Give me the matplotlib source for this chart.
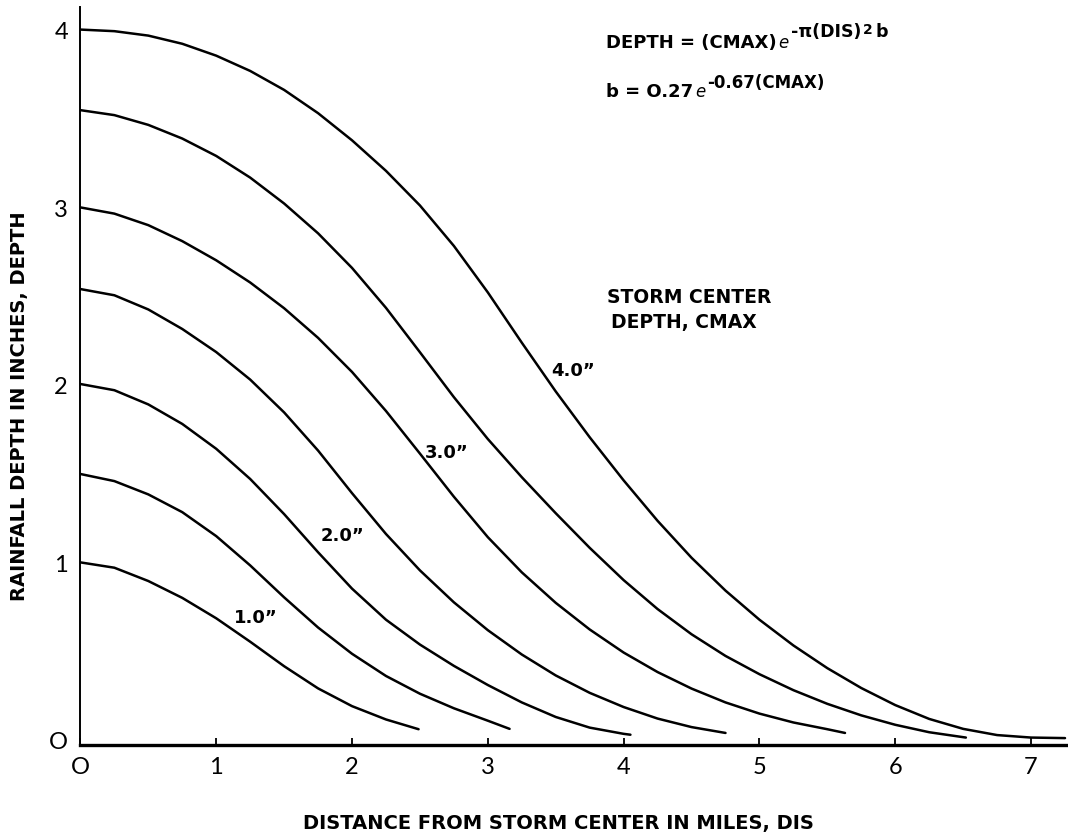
import matplotlib
matplotlib.use("Agg")
import matplotlib.pyplot as plt

# Curves at 0.25 mile steps: distance (miles) vs depth (inches)
dis_10 = [0.00, 0.25, 0.50, 0.75, 1.00, 1.25, 1.50, 1.75, 2.00, 2.25, 2.49]
depth_10 = [0.998, 0.968, 0.893, 0.798, 0.683, 0.551, 0.413, 0.288, 0.188, 0.113, 0.058]

dis_15 = [0.00, 0.25, 0.50, 0.75, 1.00, 1.25, 1.50, 1.75, 2.00, 2.25, 2.50, 2.75, 3.00, 3.16]
depth_15 = [1.496, 1.456, 1.381, 1.281, 1.146, 0.981, 0.801, 0.631, 0.483, 0.358, 0.258,
            0.176, 0.106, 0.060]

dis_20 = [0.00, 0.25, 0.50, 0.75, 1.00, 1.25, 1.50, 1.75, 2.00, 2.25, 2.50, 2.75, 3.00,
          3.25, 3.50, 3.75, 4.00, 4.05]
depth_20 = [2.003, 1.968, 1.888, 1.778, 1.638, 1.468, 1.270, 1.055, 0.850, 0.675, 0.535,
            0.415, 0.307, 0.209, 0.127, 0.067, 0.032, 0.027]

dis_25 = [0.00, 0.25, 0.50, 0.75, 1.00, 1.25, 1.50, 1.75, 2.00, 2.25, 2.50, 2.75, 3.00,
          3.25, 3.50, 3.75, 4.00, 4.25, 4.50, 4.75]
depth_25 = [2.538, 2.503, 2.423, 2.313, 2.183, 2.028, 1.843, 1.628, 1.388, 1.158, 0.953,
            0.773, 0.616, 0.479, 0.361, 0.263, 0.183, 0.118, 0.070, 0.037]

dis_30 = [0.00, 0.25, 0.50, 0.75, 1.00, 1.25, 1.50, 1.75, 2.00, 2.25, 2.50, 2.75, 3.00,
          3.25, 3.50, 3.75, 4.00, 4.25, 4.50, 4.75, 5.00, 5.25, 5.50, 5.63]
depth_30 = [2.998, 2.963, 2.898, 2.808, 2.700, 2.575, 2.430, 2.263, 2.071, 1.851, 1.611,
            1.368, 1.140, 0.942, 0.770, 0.620, 0.490, 0.380, 0.287, 0.209, 0.146, 0.096,
            0.058, 0.037]

dis_35 = [0.00, 0.25, 0.50, 0.75, 1.00, 1.25, 1.50, 1.75, 2.00, 2.25, 2.50, 2.75, 3.00,
          3.25, 3.50, 3.75, 4.00, 4.25, 4.50, 4.75, 5.00, 5.25, 5.50, 5.75, 6.00, 6.25, 6.52]
depth_35 = [3.546, 3.518, 3.463, 3.386, 3.288, 3.166, 3.020, 2.852, 2.657, 2.432, 2.182,
            1.929, 1.693, 1.478, 1.275, 1.080, 0.898, 0.735, 0.593, 0.471, 0.368, 0.278,
            0.201, 0.136, 0.083, 0.041, 0.011]

dis_40 = [0.00, 0.25, 0.50, 0.75, 1.00, 1.25, 1.50, 1.75, 2.00, 2.25, 2.50, 2.75, 3.00,
          3.25, 3.50, 3.75, 4.00, 4.25, 4.50, 4.75, 5.00, 5.25, 5.50, 5.75, 6.00, 6.25,
          6.50, 6.75, 7.00, 7.25]
depth_40 = [4.000, 3.991, 3.966, 3.920, 3.853, 3.767, 3.660, 3.529, 3.376, 3.204, 3.009,
            2.781, 2.519, 2.236, 1.961, 1.703, 1.460, 1.232, 1.024, 0.839, 0.675, 0.530,
            0.402, 0.290, 0.194, 0.116, 0.060, 0.025, 0.011, 0.008]

# curve labels and where they sit
curve_labels = ['1.0\u201d', '2.0\u201d', '3.0\u201d', '4.0\u201d']
label_x = [1.29, 1.93, 2.70, 3.63]
label_y = [0.69, 1.15, 1.62, 2.08]

x_ticks = [0, 1, 2, 3, 4, 5, 6, 7]
x_ticklabels = ['O', '1', '2', '3', '4', '5', '6', '7']
y_ticks = [0, 1, 2, 3, 4]
y_ticklabels = ['O', '1', '2', '3', '4']

W, H = 1068, 837
fig = plt.figure(figsize=(W / 100, H / 100), dpi=100)
ax = fig.add_axes([0.0753, 0.1087, 0.9247, 0.8817])

curves = [(dis_10, depth_10), (dis_15, depth_15), (dis_20, depth_20), (dis_25, depth_25),
          (dis_30, depth_30), (dis_35, depth_35), (dis_40, depth_40)]
for d, h in curves:
    ax.plot(d, h, color='black', lw=1.8, solid_capstyle='round', solid_joinstyle='round')

for txt, lx, ly in zip(curve_labels, label_x, label_y):
    ax.text(lx, ly, txt, ha='center', va='center', fontsize=13, fontweight='bold')

ax.set_xlim(0, 7.272)
ax.set_ylim(-0.031, 4.127)

ax.spines['top'].set_visible(False)
ax.spines['right'].set_visible(False)
ax.spines['left'].set_linewidth(1.4)
ax.spines['bottom'].set_linewidth(2.4)

ax.set_xticks(x_ticks)
ax.set_xticklabels(x_ticklabels)
ax.set_yticks(y_ticks)
ax.set_yticklabels(y_ticklabels)
ax.tick_params(axis='x', direction='in', length=5, width=1.3, pad=8, labelsize=17,
               labelcolor='black')
ax.tick_params(axis='y', length=0, pad=9, labelsize=17, labelcolor='black')
for lab in ax.get_xticklabels() + ax.get_yticklabels():
    lab.set_fontfamily('Lato')

fig.text(0.0187, 0.515, 'RAINFALL DEPTH IN INCHES, DEPTH', rotation=90,
         ha='center', va='center', fontsize=14, fontweight='bold')
fig.text(0.523, 0.0167, 'DISTANCE FROM STORM CENTER IN MILES, DIS',
         ha='center', va='center', fontsize=14, fontweight='bold')

fig.text(0.645, 0.645, 'STORM CENTER', ha='center', va='center',
         fontsize=13.5, fontweight='bold')
fig.text(0.640, 0.615, 'DEPTH, CMAX', ha='center', va='center',
         fontsize=13.5, fontweight='bold')

# formula block, top right: pieces laid out one after another, superscripts raised
renderer = fig.canvas.get_renderer()


def text_run(x_px, base_px, pieces):
    for s, size, weight, style, rise in pieces:
        t = fig.text(x_px / W, (base_px + rise) / H, s, fontsize=size, fontweight=weight,
                     fontstyle=style, ha='left', va='baseline')
        x_px = t.get_window_extent(renderer).x1 + 2


text_run(606, H - 48, [('DEPTH = (CMAX)', 13, 'bold', 'normal', 0),
                       ('e', 12, 'normal', 'italic', 0),
                       ('-\u03c0(DIS)', 12.5, 'bold', 'normal', 11),
                       ('2', 10, 'bold', 'normal', 14),
                       ('b', 12.5, 'bold', 'normal', 11)])
text_run(606, H - 97, [('b = O.27', 13, 'bold', 'normal', 0),
                       ('e', 12, 'normal', 'italic', 0),
                       ('-0.67(CMAX)', 12, 'bold', 'normal', 9)])

fig.savefig('out.png', dpi=100)
